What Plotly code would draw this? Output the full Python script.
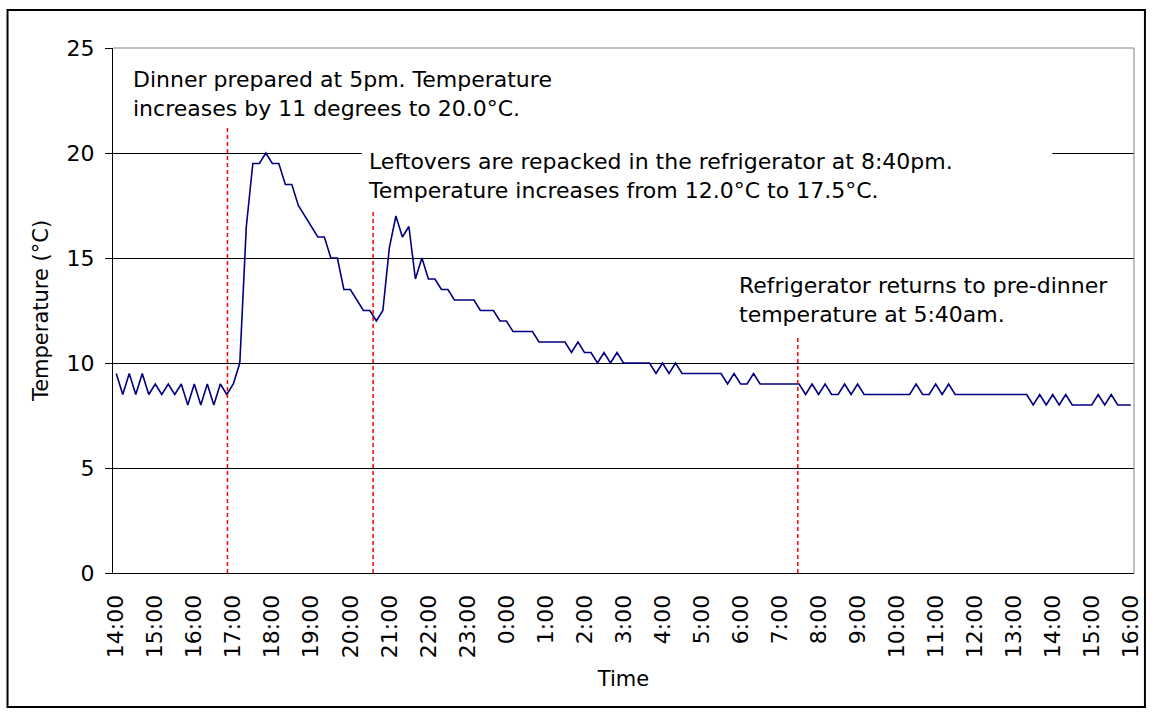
import pandas as pd
import plotly.graph_objects as go

# ---------------- data ----------------
start_time = "2000-01-01 14:00"
n_points = 157  # readings every 10 minutes, 14:00 -> 16:00 next day
times = pd.date_range(start_time, periods=n_points, freq="10min")

temperature = [
    9.5, 8.5, 9.5, 8.5, 9.5, 8.5, 9.0, 8.5, 9.0, 8.5,
    9.0, 8.0, 9.0, 8.0, 9.0, 8.0, 9.0, 8.5, 9.0, 10.0,
    16.5, 19.5, 19.5, 20.0, 19.5, 19.5, 18.5, 18.5, 17.5, 17.0,
    16.5, 16.0, 16.0, 15.0, 15.0, 13.5, 13.5, 13.0, 12.5, 12.5,
    12.0, 12.5, 15.5, 17.0, 16.0, 16.5, 14.0, 15.0, 14.0, 14.0,
    13.5, 13.5, 13.0, 13.0, 13.0, 13.0, 12.5, 12.5, 12.5, 12.0,
    12.0, 11.5, 11.5, 11.5, 11.5, 11.0, 11.0, 11.0, 11.0, 11.0,
    10.5, 11.0, 10.5, 10.5, 10.0, 10.5, 10.0, 10.5, 10.0, 10.0,
    10.0, 10.0, 10.0, 9.5, 10.0, 9.5, 10.0, 9.5, 9.5, 9.5,
    9.5, 9.5, 9.5, 9.5, 9.0, 9.5, 9.0, 9.0, 9.5, 9.0,
    9.0, 9.0, 9.0, 9.0, 9.0, 9.0, 8.5, 9.0, 8.5, 9.0,
    8.5, 8.5, 9.0, 8.5, 9.0, 8.5, 8.5, 8.5, 8.5, 8.5,
    8.5, 8.5, 8.5, 9.0, 8.5, 8.5, 9.0, 8.5, 9.0, 8.5,
    8.5, 8.5, 8.5, 8.5, 8.5, 8.5, 8.5, 8.5, 8.5, 8.5,
    8.5, 8.0, 8.5, 8.0, 8.5, 8.0, 8.5, 8.0, 8.0, 8.0,
    8.0, 8.5, 8.0, 8.5, 8.0, 8.0, 8.0,
]

event_times = ["2000-01-01 16:51", "2000-01-01 20:35", "2000-01-02 07:28"]
event_tops = [21.2, 17.2, 11.3]
event_texts = [
    "Dinner prepared at 5pm. Temperature<br>increases by 11 degrees to 20.0°C.",
    "Leftovers are repacked in the refrigerator at 8:40pm.<br>Temperature increases from 12.0°C to 17.5°C.",
    "Refrigerator returns to pre-dinner<br>temperature at 5:40am.",
]

x_title = "Time"
y_title = "Temperature (°C)"

# ---------------- layout geometry (page pixels) ----------------
W, H = 1155, 713
L, R, T, B = 113, 1139, 48, 573   # plot area in page pixels
FONT = "DejaVu Sans"
FS = 22


def px_x(x):
    return (x - L) / (R - L)


def px_y(y):
    return (B - y) / (B - T)


fig = go.Figure()
fig.add_trace(go.Scatter(
    x=times, y=temperature, mode="lines",
    line=dict(color="#000080", width=1.6),
    hoverinfo="x+y", showlegend=False,
))

shapes = []
for t, top in zip(event_times, event_tops):
    shapes.append(dict(type="line", xref="x", yref="y", x0=t, x1=t, y0=0, y1=top,
                       line=dict(color="#ff0000", width=1.5, dash="4px,3px"), layer="above"))
shapes.append(dict(type="rect", xref="paper", yref="paper",
                   x0=px_x(363), x1=px_x(1057), y0=px_y(208), y1=px_y(140),
                   fillcolor="white", line=dict(width=0), layer="above"))
shapes.append(dict(type="line", xref="paper", yref="paper", x0=0, x1=1, y0=1, y1=1,
                   line=dict(color="#808080", width=1)))
shapes.append(dict(type="line", xref="paper", yref="paper", x0=1, x1=1, y0=0, y1=1,
                   line=dict(color="#808080", width=1)))
shapes.append(dict(type="rect", xref="paper", yref="paper",
                   x0=px_x(7), x1=px_x(1150), y0=px_y(707), y1=px_y(10),
                   line=dict(color="black", width=2), fillcolor="rgba(0,0,0,0)"))

ann_pos = [(131, 93.5), (367, 176), (740, 299.5)]
annotations = []
for (ax, ay), txt in zip(ann_pos, event_texts):
    annotations.append(dict(xref="paper", yref="paper", x=px_x(ax), y=px_y(ay),
                            xanchor="left", yanchor="middle", align="left",
                            text=txt, showarrow=False,
                            font=dict(family=FONT, size=FS, color="black")))

fig.update_layout(
    width=W, height=H, autosize=False,
    margin=dict(l=L, r=W - R, t=T, b=H - B, pad=0),
    paper_bgcolor="white", plot_bgcolor="white",
    font=dict(family=FONT, size=FS, color="black"),
    shapes=shapes, annotations=annotations,
    showlegend=False,
)
fig.update_xaxes(
    type="date",
    range=["2000-01-01 13:55", "2000-01-02 16:05"],
    tick0="2000-01-01 14:00", dtick=3600000, tickformat="%-H:%M",
    tickangle=-90, showgrid=False, zeroline=False,
    showline=True, linecolor="black", linewidth=1,
    ticks="", ticklabelstandoff=12,
    tickfont=dict(family=FONT, size=FS, color="black"),
    title=dict(text=x_title, standoff=14, font=dict(family=FONT, size=21, color="black")),
)
fig.update_yaxes(
    range=[0, 25], dtick=5, tick0=0,
    showgrid=True, gridcolor="black", gridwidth=1, zeroline=False,
    showline=True, linecolor="black", linewidth=1,
    ticks="outside", ticklen=7, tickcolor="black", ticklabelstandoff=6,
    tickfont=dict(family=FONT, size=FS, color="black"),
    title=dict(text=y_title, standoff=12, font=dict(family=FONT, size=21, color="black")),
)

post = "document.body.style.margin='0px';document.body.style.overflow='hidden';"
fig.write_html("out.html", config={"displayModeBar": False}, post_script=post)
